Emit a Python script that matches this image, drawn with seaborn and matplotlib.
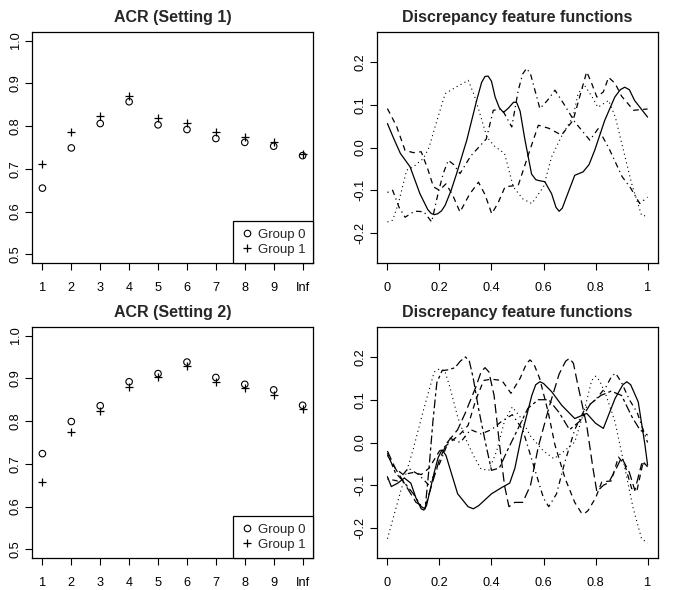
import matplotlib
matplotlib.use("Agg")
import matplotlib.pyplot as plt
from matplotlib.lines import Line2D
import seaborn as sns
import pandas as pd

# ---------------- data ----------------
acr_labels = ["1", "2", "3", "4", "5", "6", "7", "8", "9", "Inf"]

s1_group0 = [0.655, 0.749, 0.806, 0.857, 0.803, 0.792, 0.771, 0.762, 0.753, 0.731]
s1_group1 = [0.712, 0.786, 0.823, 0.871, 0.820, 0.807, 0.787, 0.774, 0.764, 0.734]
s2_group0 = [0.724, 0.799, 0.836, 0.892, 0.911, 0.938, 0.902, 0.886, 0.873, 0.837]
s2_group1 = [0.657, 0.774, 0.823, 0.880, 0.903, 0.928, 0.892, 0.877, 0.861, 0.829]

# Discrepancy feature functions, setting 1
f1_solid_x = [0, 0.025, 0.05, 0.087, 0.125, 0.155, 0.168, 0.18, 0.193, 0.208, 0.222, 0.245,
              0.266, 0.305, 0.343, 0.362, 0.375, 0.387, 0.4, 0.414, 0.43, 0.446, 0.465, 0.485,
              0.497, 0.51, 0.528, 0.554, 0.57, 0.58, 0.605, 0.631, 0.648, 0.66, 0.672, 0.688,
              0.72, 0.752, 0.775, 0.797, 0.835, 0.874, 0.895, 0.912, 0.93, 0.95, 1.0]
f1_solid_y = [0.056, 0.02, -0.014, -0.045, -0.108, -0.145, -0.154, -0.157, -0.155, -0.148,
              -0.135, -0.1, -0.061, 0.017, 0.11, 0.152, 0.166, 0.167, 0.155, 0.118, 0.093,
              0.082, 0.092, 0.106, 0.105, 0.085, 0.02, -0.062, -0.075, -0.077, -0.08, -0.108,
              -0.14, -0.149, -0.142, -0.116, -0.065, -0.057, -0.04, -0.006, 0.063, 0.118,
              0.135, 0.141, 0.135, 0.11, 0.071]
f1_dash_x = [0, 0.035, 0.068, 0.1, 0.13, 0.155, 0.177, 0.2, 0.225, 0.25, 0.279, 0.315, 0.35,
             0.375, 0.401, 0.425, 0.452, 0.503, 0.54, 0.58, 0.62, 0.669, 0.714, 0.746, 0.766,
             0.785, 0.805, 0.83, 0.85, 0.875, 0.9, 0.946, 1.0]
f1_dash_y = [0.091, 0.05, -0.007, -0.012, -0.01, -0.05, -0.092, -0.1, -0.085, -0.11, -0.151,
             -0.11, -0.081, -0.11, -0.155, -0.13, -0.092, -0.088, -0.02, 0.052, 0.045, 0.029,
             0.064, 0.134, 0.177, 0.15, 0.118, 0.13, 0.164, 0.15, 0.12, 0.087, 0.09]
f1_dot_x = [0, 0.02, 0.042, 0.074, 0.1, 0.138, 0.16, 0.183, 0.222, 0.266, 0.311, 0.335, 0.36,
            0.382, 0.41, 0.45, 0.484, 0.52, 0.555, 0.6, 0.631, 0.669, 0.714, 0.733, 0.758,
            0.785, 0.809, 0.85, 0.876, 0.907, 0.939, 0.977, 1.0]
f1_dot_y = [-0.174, -0.17, -0.131, -0.053, -0.045, -0.026, 0.0, 0.048, 0.126, 0.142, 0.157,
            0.12, 0.07, 0.025, 0.004, -0.014, -0.092, -0.12, -0.131, -0.092, -0.022, 0.026,
            0.073, 0.126, 0.145, 0.12, 0.094, 0.11, 0.071, -0.006, -0.085, -0.159, -0.16]
f1_dotdash_x = [0, 0.02, 0.045, 0.068, 0.104, 0.14, 0.17, 0.196, 0.215, 0.234, 0.255, 0.279,
                0.3, 0.32, 0.35, 0.38, 0.407, 0.44, 0.478, 0.503, 0.52, 0.535, 0.55, 0.586,
                0.615, 0.644, 0.68, 0.72, 0.778, 0.81, 0.85, 0.902, 0.935, 0.97, 1.0]
f1_dotdash_y = [-0.105, -0.1, -0.14, -0.163, -0.149, -0.15, -0.174, -0.104, -0.06, -0.03,
                -0.04, -0.061, -0.04, -0.02, 0.0, 0.02, 0.087, 0.09, 0.048, 0.134, 0.172,
                0.185, 0.172, 0.091, 0.11, 0.134, 0.1, 0.06, 0.017, 0.044, 0.0, -0.068,
                -0.095, -0.131, -0.116]

# Discrepancy feature functions, setting 2
f2_solid_x = [0, 0.015, 0.04, 0.065, 0.09, 0.11, 0.13, 0.14, 0.15, 0.18, 0.195, 0.21, 0.225,
              0.24, 0.27, 0.31, 0.33, 0.35, 0.4, 0.44, 0.47, 0.49, 0.516, 0.555, 0.57, 0.586,
              0.6, 0.631, 0.67, 0.72, 0.766, 0.8, 0.83, 0.875, 0.905, 0.92, 0.935, 0.964,
              0.99, 1.0]
f2_solid_y = [-0.08, -0.103, -0.095, -0.083, -0.095, -0.13, -0.155, -0.158, -0.148, -0.07,
              -0.035, -0.017, -0.03, -0.06, -0.12, -0.15, -0.155, -0.148, -0.12, -0.105,
              -0.095, -0.06, 0.017, 0.11, 0.135, 0.142, 0.138, 0.119, 0.087, 0.056, 0.068,
              0.045, 0.033, 0.103, 0.135, 0.142, 0.135, 0.095, -0.006, -0.053]
f2_dash_x = [0, 0.03, 0.06, 0.1, 0.13, 0.16, 0.2, 0.24, 0.28, 0.31, 0.34, 0.37, 0.4, 0.44,
             0.475, 0.51, 0.535, 0.548, 0.562, 0.585, 0.618, 0.644, 0.683, 0.72, 0.745,
             0.755, 0.77, 0.8, 0.824, 0.86, 0.888, 0.913, 0.939, 0.96, 0.983, 1.0]
f2_dash_y = [-0.03, -0.06, -0.075, -0.07, -0.075, -0.06, -0.02, 0.0, 0.02, 0.04, 0.1, 0.145,
             0.148, 0.145, 0.115, 0.15, 0.185, 0.193, 0.185, 0.15, 0.071, -0.006, -0.084,
             -0.14, -0.164, -0.167, -0.16, -0.13, -0.092, -0.09, -0.034, -0.053, -0.108,
             -0.11, -0.045, -0.057]
f2_dot_x = [0, 0.05, 0.1, 0.14, 0.18, 0.2, 0.22, 0.24, 0.27, 0.3, 0.33, 0.36, 0.39, 0.42,
            0.45, 0.48, 0.51, 0.55, 0.6, 0.64, 0.68, 0.72, 0.755, 0.785, 0.8, 0.815, 0.84,
            0.875, 0.913, 0.945, 0.977, 1.0]
f2_dot_y = [-0.225, -0.116, -0.014, 0.079, 0.165, 0.172, 0.168, 0.13, 0.06, 0.01, -0.03,
            -0.062, -0.065, -0.02, 0.05, 0.083, 0.06, 0.015, -0.02, -0.038, -0.02, 0.001,
            0.071, 0.145, 0.155, 0.145, 0.111, 0.048, -0.061, -0.155, -0.225, -0.235]
f2_dotdash_x = [0, 0.04, 0.08, 0.12, 0.16, 0.2, 0.24, 0.28, 0.32, 0.36, 0.4, 0.44, 0.48,
                0.52, 0.56, 0.6, 0.62, 0.65, 0.68, 0.72, 0.76, 0.8, 0.84, 0.862, 0.877, 0.9,
                0.93, 0.96, 1.0]
f2_dotdash_y = [-0.085, -0.09, -0.06, -0.075, -0.1, -0.05, 0.01, 0.0, 0.03, 0.02, 0.03, 0.05,
                0.065, 0.03, -0.05, -0.13, -0.15, -0.12, -0.05, 0.03, 0.08, 0.1, 0.13, 0.155,
                0.162, 0.14, 0.1, 0.07, 0.0]
f2_longdash_x = [0, 0.03, 0.07, 0.11, 0.145, 0.17, 0.2, 0.23, 0.27, 0.3, 0.34, 0.36, 0.375,
                 0.39, 0.41, 0.43, 0.45, 0.467, 0.49, 0.52, 0.55, 0.58, 0.62, 0.66, 0.685,
                 0.7, 0.715, 0.73, 0.766, 0.79, 0.805, 0.83, 0.85, 0.88, 0.9, 0.93, 0.951,
                 0.977, 1.0]
f2_longdash_y = [-0.02, -0.06, -0.1, -0.14, -0.152, -0.1, -0.04, 0.0, 0.03, 0.07, 0.13,
                 0.165, 0.175, 0.165, 0.11, 0.0, -0.1, -0.15, -0.14, -0.14, -0.1, -0.01,
                 0.08, 0.16, 0.19, 0.197, 0.185, 0.14, 0.04, -0.06, -0.115, -0.1, -0.094,
                 -0.06, -0.035, -0.07, -0.112, -0.05, -0.05]
f2_twodash_x = [0, 0.03, 0.06, 0.1, 0.13, 0.145, 0.16, 0.175, 0.19, 0.21, 0.235, 0.26, 0.28,
                0.3, 0.315, 0.33, 0.35, 0.375, 0.4, 0.43, 0.46, 0.5, 0.54, 0.58, 0.62, 0.66,
                0.7, 0.74, 0.78, 0.82, 0.86, 0.9, 0.94, 0.97, 1.0]
f2_twodash_y = [-0.025, -0.07, -0.09, -0.12, -0.15, -0.155, -0.06, 0.05, 0.14, 0.168, 0.17,
                0.175, 0.19, 0.2, 0.19, 0.15, 0.08, 0.005, -0.065, -0.06, -0.02, 0.03, 0.08,
                0.1, 0.1, 0.07, 0.03, 0.05, 0.09, 0.11, 0.12, 0.11, 0.06, 0.03, 0.017]

# ---------------- style ----------------
sns.set_theme(style="ticks")
plt.rcParams["font.family"] = ["Liberation Sans", "DejaVu Sans"]
plt.rcParams["axes.unicode_minus"] = False

LS = {
    "solid": "-",
    "dashed": (0, (4.5, 3.5)),
    "dotted": (0, (1, 3)),
    "dotdash": (0, (1, 3, 4.5, 3)),
    "longdash": (0, (7.5, 3.5)),
    "twodash": (0, (2.5, 2.5, 7, 2.5)),
}

W, H = 690, 590
fig = plt.figure(figsize=(W / 100, H / 100), dpi=100)
fig.patch.set_facecolor("white")


def box(x0, y0, x1, y1):
    return [x0 / W, 1 - y1 / H, (x1 - x0) / W, (y1 - y0) / H]


ax_tl = fig.add_axes(box(32, 32, 313, 263))
ax_bl = fig.add_axes(box(32, 327, 313, 558))
ax_tr = fig.add_axes(box(377, 32, 658, 263))
ax_br = fig.add_axes(box(377, 327, 658, 558))


def style_axes(ax):
    ax.set_facecolor("white")
    for s in ax.spines.values():
        s.set_visible(True)
        s.set_color("black")
        s.set_linewidth(0.9)
    ax.grid(False)
    ax.tick_params(axis="both", direction="out", length=5, width=0.8, color="black",
                   labelsize=9.2, labelcolor="black")
    ax.tick_params(axis="x", pad=8.6)
    ax.tick_params(axis="y", pad=2.5, labelrotation=90)
    for lab in ax.get_yticklabels():
        lab.set_va("center")
    ax.set_xlabel("")
    ax.set_ylabel("")


def acr_panel(ax, g0, g1, title):
    pos = list(range(1, len(acr_labels) + 1))
    sns.scatterplot(x=pos, y=g0, ax=ax, marker="o", s=22, facecolor="none",
                    edgecolor="black", linewidth=0.8, zorder=3)
    sns.scatterplot(x=pos, y=g1, ax=ax, marker="+", s=40, color="black",
                    linewidth=0.9, zorder=3)
    ax.set_xlim(0.64, 10.36)
    ax.set_ylim(0.48, 1.02)
    ax.set_xticks(pos)
    ax.set_xticklabels(acr_labels)
    ax.set_yticks([0.5, 0.6, 0.7, 0.8, 0.9, 1.0])
    ax.set_yticklabels(["0.5", "0.6", "0.7", "0.8", "0.9", "1.0"])
    ax.set_title(title, fontsize=11.5, fontweight="bold", pad=7.5)
    style_axes(ax)
    handles = [
        Line2D([], [], marker="o", linestyle="none", markerfacecolor="none",
               markeredgecolor="black", markersize=4.7, markeredgewidth=0.8),
        Line2D([], [], marker="+", linestyle="none", color="black",
               markersize=6.3, markeredgewidth=0.9),
    ]
    leg = ax.legend(handles, ["Group 0", "Group 1"], loc="lower right",
                    borderaxespad=0, fancybox=False, framealpha=1, edgecolor="black",
                    fontsize=9.5, handlelength=1.0, handletextpad=0.35, borderpad=0.55,
                    labelspacing=0.2)
    leg.get_frame().set_linewidth(0.9)


def feature_panel(ax, curves):
    for xs, ys, ls in curves:
        df = pd.DataFrame({"x": xs, "y": ys})
        lw = 0.8 if ls == "dotted" else 0.9
        sns.lineplot(data=df, x="x", y="y", ax=ax, color="black", linewidth=lw,
                     linestyle=LS[ls], sort=False, estimator=None)
    ax.set_xlim(-0.04, 1.04)
    ax.set_ylim(-0.27, 0.27)
    ax.set_xticks([0, 0.2, 0.4, 0.6, 0.8, 1.0])
    ax.set_xticklabels(["0", "0.2", "0.4", "0.6", "0.8", "1"])
    ax.set_yticks([-0.2, -0.1, 0.0, 0.1, 0.2])
    ax.set_yticklabels(["-0.2", "-0.1", "0.0", "0.1", "0.2"])
    ax.set_title("Discrepancy feature functions", fontsize=11.5, fontweight="bold", pad=7.5)
    style_axes(ax)


acr_panel(ax_tl, s1_group0, s1_group1, "ACR (Setting 1)")
acr_panel(ax_bl, s2_group0, s2_group1, "ACR (Setting 2)")

feature_panel(ax_tr, [
    (f1_solid_x, f1_solid_y, "solid"),
    (f1_dash_x, f1_dash_y, "dashed"),
    (f1_dot_x, f1_dot_y, "dotted"),
    (f1_dotdash_x, f1_dotdash_y, "dotdash"),
])
feature_panel(ax_br, [
    (f2_solid_x, f2_solid_y, "solid"),
    (f2_dash_x, f2_dash_y, "dashed"),
    (f2_dot_x, f2_dot_y, "dotted"),
    (f2_dotdash_x, f2_dotdash_y, "dotdash"),
    (f2_longdash_x, f2_longdash_y, "longdash"),
    (f2_twodash_x, f2_twodash_y, "twodash"),
])

fig.savefig("out.png", dpi=100, facecolor="white")
